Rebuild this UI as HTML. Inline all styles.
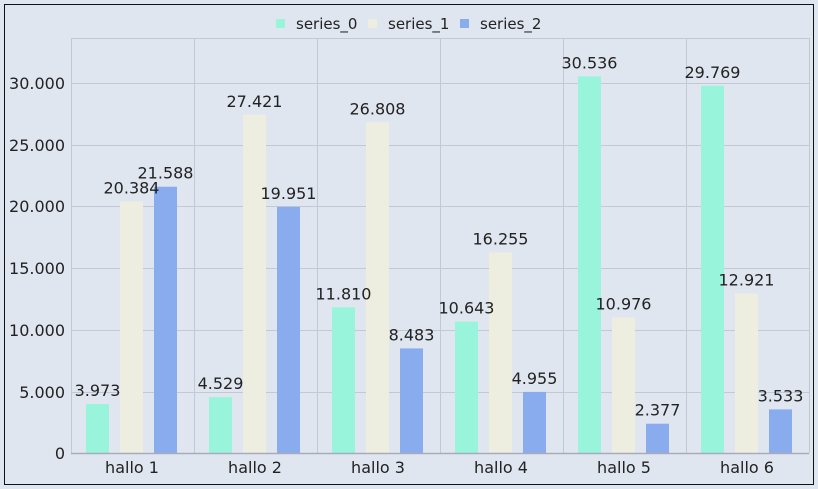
<!DOCTYPE html>
<html><head><style>body{margin:0;background:#fff}svg{display:block;font-family:"DejaVu Sans","Liberation Sans",sans-serif}</style></head><body>
<svg width="818" height="489" xmlns="http://www.w3.org/2000/svg">
<rect x="0" y="0" width="818" height="489" fill="#e0e6f0"/>
<rect x="4.5" y="4.5" width="809" height="480" fill="#e0e6f0" stroke="#111" stroke-width="1"/>
<g stroke="#c4c8d4" stroke-width="1">
<line x1="71" y1="38.5" x2="809" y2="38.5"/>
<line x1="71" y1="83.5" x2="809" y2="83.5"/>
<line x1="71" y1="145.5" x2="809" y2="145.5"/>
<line x1="71" y1="206.5" x2="809" y2="206.5"/>
<line x1="71" y1="268.5" x2="809" y2="268.5"/>
<line x1="71" y1="330.5" x2="809" y2="330.5"/>
<line x1="71" y1="392.5" x2="809" y2="392.5"/>
<line x1="71.5" y1="38" x2="71.5" y2="453"/>
<line x1="194.5" y1="38" x2="194.5" y2="453"/>
<line x1="317.5" y1="38" x2="317.5" y2="453"/>
<line x1="440.5" y1="38" x2="440.5" y2="453"/>
<line x1="563.5" y1="38" x2="563.5" y2="453"/>
<line x1="686.5" y1="38" x2="686.5" y2="453"/>
<line x1="809.5" y1="38" x2="809.5" y2="453"/>
</g>
<g font-size="16" fill="#222" text-anchor="end">
<text x="65" y="89">30.000</text><text x="65" y="151">25.000</text><text x="65" y="212">20.000</text>
<text x="65" y="274">15.000</text><text x="65" y="336">10.000</text><text x="65" y="398">5.000</text><text x="65" y="459">0</text>
</g>
<g>
<rect x="86" y="404" width="23" height="49" fill="#98f5dc"/>
<rect x="120" y="201.6" width="23" height="251.4" fill="#eeeee0"/>
<rect x="154" y="186.7" width="23" height="266.3" fill="#88aced"/>
<rect x="209" y="397.1" width="23" height="55.9" fill="#98f5dc"/>
<rect x="243" y="114.8" width="23" height="338.2" fill="#eeeee0"/>
<rect x="277" y="206.9" width="23" height="246.1" fill="#88aced"/>
<rect x="332" y="307.3" width="23" height="145.7" fill="#98f5dc"/>
<rect x="366" y="122.4" width="23" height="330.6" fill="#eeeee0"/>
<rect x="400" y="348.4" width="23" height="104.6" fill="#88aced"/>
<rect x="455" y="321.7" width="23" height="131.3" fill="#98f5dc"/>
<rect x="489" y="252.5" width="23" height="200.5" fill="#eeeee0"/>
<rect x="523" y="391.9" width="23" height="61.1" fill="#88aced"/>
<rect x="578" y="76.4" width="23" height="376.6" fill="#98f5dc"/>
<rect x="612" y="317.6" width="23" height="135.4" fill="#eeeee0"/>
<rect x="646" y="423.7" width="23" height="29.3" fill="#88aced"/>
<rect x="701" y="85.8" width="23" height="367.2" fill="#98f5dc"/>
<rect x="735" y="293.6" width="23" height="159.4" fill="#eeeee0"/>
<rect x="769" y="409.4" width="23" height="43.6" fill="#88aced"/>
</g>
<g font-size="16" fill="#222" text-anchor="middle">
<text x="97.5" y="396">3.973</text>
<text x="131.5" y="193.6">20.384</text>
<text x="165.5" y="178.7">21.588</text>
<text x="220.5" y="389.1">4.529</text>
<text x="254.5" y="106.8">27.421</text>
<text x="288.5" y="198.9">19.951</text>
<text x="343.5" y="299.3">11.810</text>
<text x="377.5" y="114.4">26.808</text>
<text x="411.5" y="340.4">8.483</text>
<text x="466.5" y="313.7">10.643</text>
<text x="500.5" y="244.5">16.255</text>
<text x="534.5" y="383.9">4.955</text>
<text x="589.5" y="68.4">30.536</text>
<text x="623.5" y="309.6">10.976</text>
<text x="657.5" y="415.7">2.377</text>
<text x="712.5" y="77.8">29.769</text>
<text x="746.5" y="285.6">12.921</text>
<text x="780.5" y="401.4">3.533</text>
</g>
<line x1="71" y1="453.5" x2="809" y2="453.5" stroke="#aab" stroke-width="1.5"/>
<g font-size="16" fill="#222" text-anchor="middle">
<text x="132" y="473">hallo 1</text><text x="255" y="473">hallo 2</text><text x="378" y="473">hallo 3</text>
<text x="501" y="473">hallo 4</text><text x="624" y="473">hallo 5</text><text x="747" y="473">hallo 6</text>
</g>
<g font-size="15" fill="#222">
<rect x="276" y="19" width="9" height="9" fill="#98f5dc"/><text x="296" y="29">series_0</text>
<rect x="368" y="19" width="9" height="9" fill="#eeeee0"/><text x="388" y="29">series_1</text>
<rect x="460" y="19" width="9" height="9" fill="#88aced"/><text x="480" y="29">series_2</text>
</g>
</svg>
</body></html>
